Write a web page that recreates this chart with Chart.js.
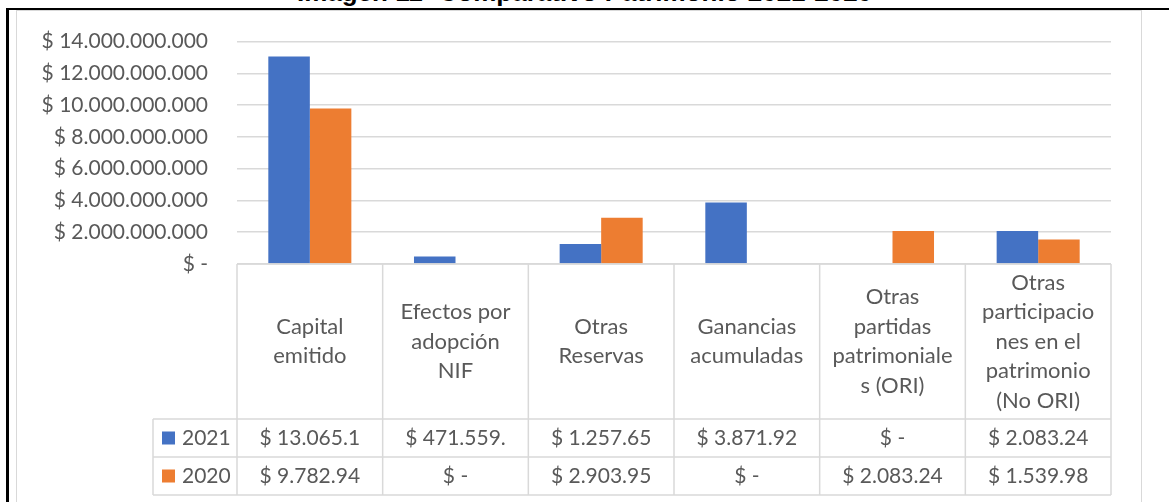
<!DOCTYPE html>
<html>
<head>
<meta charset="utf-8">
<script src="https://cdn.jsdelivr.net/npm/chart.js@4"></script>
<style>
  html, body { margin: 0; padding: 0; background: #fff; overflow: hidden; }
  body { width: 1169px; height: 502px; position: relative; }
  #title { position: absolute; left: 0; width: 1169px; top: -23px; text-align: center;
           font: bold 26px "Liberation Sans", Arial, sans-serif; color: #000; }
  #topLine { position: absolute; left: 6px; right: 0; top: 8px; height: 2px; background: #000; }
  #leftLine { position: absolute; left: 6px; top: 8px; bottom: 0; width: 3px; background: #000; }
  #frame { position: absolute; left: 16px; top: 10px; width: 1124px; height: 500px; border: 1px solid #d9d9d9; }
  canvas { position: absolute; left: 0; top: 0; }
</style>
</head>
<body>
<div id="title">Imagen 11- Comparativo Patrimonio 2021-2020</div>
<div id="topLine"></div>
<div id="leftLine"></div>
<div id="frame"></div>
<canvas id="chart" width="1169" height="502"></canvas>
<script>
// ── Data ────────────────────────────────────────────────────────────────
const categories = [
  ['Capital', 'emitido'],
  ['Efectos por', 'adopción', 'NIF'],
  ['Otras', 'Reservas'],
  ['Ganancias', 'acumuladas'],
  ['Otras', 'partidas', 'patrimoniale', 's (ORI)'],
  ['Otras', 'participacio', 'nes en el', 'patrimonio', '(No ORI)'],
];
const seriesNames = ['2021', '2020'];
const values2021 = [13065100000, 471559000, 1257650000, 3871920000, 0, 2083240000];
const values2020 = [9782940000, 0, 2903950000, 0, 2083240000, 1539980000];
const seriesColors = ['#4472C4', '#ED7D31'];

const TEXT = '#595959';
const GRID = '#d9d9d9';
const FONT = 'Lato, "Open Sans", sans-serif';

function money(v) {
  if (v === 0) return '$ -';
  return '$ ' + String(Math.round(v)).replace(/\B(?=(\d{3})+(?!\d))/g, '.');
}

// Excel clips the cell text to the column width
function cellText(v) {
  const s = money(v);
  return s.length > 10 ? s.slice(0, 10) : s;
}

// ── Data table drawn under the plot area ────────────────────────────────
const dataTable = {
  id: 'dataTable',
  afterDraw(chart) {
    const ctx = chart.ctx;
    const xs = chart.scales.x;
    const top = chart.chartArea.bottom;
    const n = categories.length;
    const cw = (xs.right - xs.left) / n;
    const headBottom = top + 155;
    const rowH = 38;
    const legLeft = xs.left - 84;
    const series = [values2021, values2020];

    ctx.save();
    ctx.strokeStyle = GRID;
    ctx.lineWidth = 1.5;
    ctx.beginPath();
    // horizontal lines
    ctx.moveTo(xs.left, top); ctx.lineTo(xs.right, top);
    for (let r = 0; r <= 2; r++) {
      const y = headBottom + r * rowH;
      ctx.moveTo(legLeft, y); ctx.lineTo(xs.right, y);
    }
    // vertical lines
    for (let i = 0; i <= n; i++) {
      const x = xs.left + i * cw;
      ctx.moveTo(x, top); ctx.lineTo(x, headBottom + 2 * rowH);
    }
    ctx.moveTo(legLeft, headBottom); ctx.lineTo(legLeft, headBottom + 2 * rowH);
    ctx.stroke();

    ctx.fillStyle = TEXT;
    ctx.textAlign = 'center';
    ctx.textBaseline = 'middle';
    ctx.font = '22px ' + FONT;
    const lh = 29.5;
    categories.forEach((lines, i) => {
      const cx = xs.getPixelForValue(i);
      const cy = (top + headBottom) / 2;
      lines.forEach((t, k) => {
        ctx.fillText(t, cx, cy + (k - (lines.length - 1) / 2) * lh);
      });
    });

    ctx.font = '21px ' + FONT;
    series.forEach((vals, r) => {
      const cy = headBottom + r * rowH + rowH / 2;
      vals.forEach((v, i) => {
        ctx.fillStyle = TEXT;
        ctx.textAlign = 'center';
        ctx.fillText(cellText(v), xs.getPixelForValue(i), cy);
      });
      ctx.fillStyle = seriesColors[r];
      ctx.fillRect(legLeft + 9, cy - 6.5, 13, 13);
      ctx.fillStyle = TEXT;
      ctx.textAlign = 'left';
      ctx.fillText(seriesNames[r], legLeft + 29, cy);
    });
    ctx.restore();
  }
};

new Chart(document.getElementById('chart'), {
  type: 'bar',
  data: {
    labels: categories.map(c => c.join(' ')),
    datasets: [
      { label: seriesNames[0], data: values2021, backgroundColor: seriesColors[0] },
      { label: seriesNames[1], data: values2020, backgroundColor: seriesColors[1] },
    ]
  },
  options: {
    responsive: false,
    animation: false,
    devicePixelRatio: 1,
    layout: { padding: { left: 16, right: 58, top: 39, bottom: 0 } },
    datasets: { bar: { categoryPercentage: 0.57, barPercentage: 1 } },
    plugins: { legend: { display: false }, tooltip: { enabled: false } },
    scales: {
      x: {
        grid: { display: false },
        border: { display: false },
        ticks: { display: false },
        afterFit: s => { s.height = 238; }
      },
      y: {
        min: 0,
        max: 14000000000,
        ticks: {
          stepSize: 2000000000,
          padding: 29,
          color: TEXT,
          font: { family: FONT, size: 21 },
          callback: v => money(v)
        },
        grid: { color: GRID, lineWidth: 1.5, drawTicks: false },
        border: { display: false },
        afterFit: s => { s.width = 221; }
      }
    }
  },
  plugins: [dataTable]
});
</script>
</body>
</html>
